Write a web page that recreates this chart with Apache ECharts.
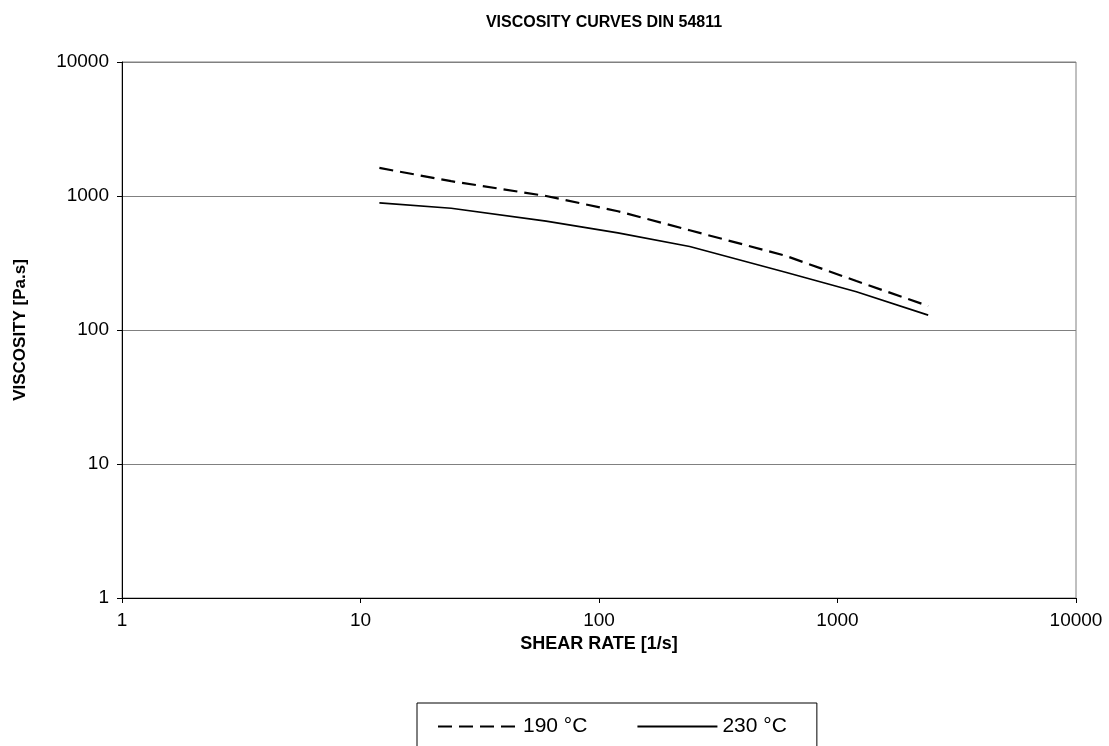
<!DOCTYPE html>
<html>
<head>
<meta charset="utf-8">
<script src="https://cdn.jsdelivr.net/npm/echarts@6/dist/echarts.min.js"></script>
<style>html,body{margin:0;padding:0;background:#fff;}#c{width:1109px;height:746px;}</style>
</head>
<body>
<div id="c"></div>
<script>
const shearRate = [12, 24, 60, 120, 240, 600, 1200, 2400];
const visc190 = [1620, 1290, 1000, 770, 555, 360, 232, 151];
const visc230 = [890, 810, 650, 530, 420, 271, 193, 129];
const seriesNames = ['190 °C', '230 °C'];

const pairs = (xs, ys) => xs.map((x, i) => [x, ys[i]]);
const font = 'Liberation Sans, Arial, sans-serif';

const chart = echarts.init(document.getElementById('c'));
chart.setOption({
  animation: false,
  backgroundColor: '#fff',
  title: {
    text: 'VISCOSITY CURVES DIN 54811',
    left: 599, top: 10, textAlign: 'center',
    textStyle: {fontFamily: font, fontSize: 16, fontWeight: 'bold', color: '#000'}
  },
  grid: {left: 122, right: 33, top: 62, bottom: 148, show: true, borderColor: '#808080', borderWidth: 1,
         containLabel: false, outerBoundsMode: 'none'},
  xAxis: {
    type: 'log', logBase: 10, min: 1, max: 10000,
    name: 'SHEAR RATE [1/s]', nameLocation: 'middle', nameGap: 36,
    nameTextStyle: {fontFamily: font, fontSize: 18, fontWeight: 'bold', color: '#000'},
    axisLine: {show: true, lineStyle: {color: '#000', width: 1}},
    axisTick: {show: true, length: 5, lineStyle: {color: '#000'}},
    minorTick: {show: false},
    splitLine: {show: false},
    axisLabel: {fontFamily: font, fontSize: 19, color: '#000', margin: 13, formatter: v => String(v)}
  },
  yAxis: {
    type: 'log', logBase: 10, min: 1, max: 10000,
    name: 'VISCOSITY [Pa.s]', nameLocation: 'middle', nameGap: 93, nameRotate: 90,
    nameTextStyle: {fontFamily: font, fontSize: 17, fontWeight: 'bold', color: '#000'},
    axisLine: {show: true, lineStyle: {color: '#000', width: 1}},
    axisTick: {show: true, length: 5, lineStyle: {color: '#000'}},
    splitLine: {show: true, lineStyle: {color: '#808080', width: 1}},
    axisLabel: {fontFamily: font, fontSize: 19, color: '#000', margin: 13, formatter: v => String(v)}
  },
  legend: {
    left: 417, top: 703,
    orient: 'horizontal',
    itemWidth: 80, itemHeight: 14, itemGap: 49,
    padding: [13, 30, 30, 20],
    borderColor: '#000', borderWidth: 1,
    itemStyle: {opacity: 0},
    textStyle: {fontFamily: font, fontSize: 21, color: '#000'},
    data: seriesNames
  },
  series: [
    {
      name: seriesNames[0], type: 'line', data: pairs(shearRate, visc190),
      symbol: 'none', showSymbol: false,
      lineStyle: {color: '#000', width: 2.2, type: [14, 7]},
      itemStyle: {color: '#000'}
    },
    {
      name: seriesNames[1], type: 'line', data: pairs(shearRate, visc230),
      symbol: 'none', showSymbol: false,
      lineStyle: {color: '#000', width: 1.7, type: 'solid'},
      itemStyle: {color: '#000'}
    }
  ]
});
</script>
</body>
</html>
